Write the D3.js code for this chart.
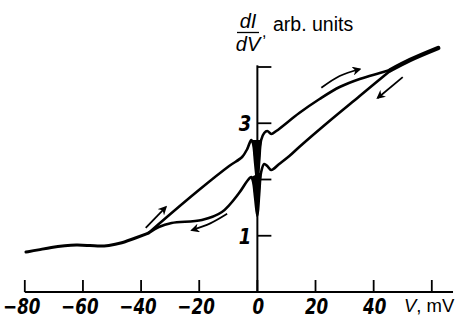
<!DOCTYPE html>
<html>
<head>
<meta charset="utf-8">
<script src="https://cdn.jsdelivr.net/npm/d3@7"></script>
<style>
  body { margin: 0; background: #fff; }
  svg { display: block; }
</style>
</head>
<body>
<div id="chart"></div>
<script>
// values: V in mV, dI/dV in arb. units
const tailV = [-79.6, -75.4, -70.9, -66.1, -62.3, -58.5, -55.0, -51.2, -46.7, -41.9, -37.4];
const tailG = [0.711, 0.747, 0.795, 0.825, 0.838, 0.83, 0.815, 0.822, 0.868, 0.96, 1.049];

// forward sweep (upper branch)
const fwdV = [-37.4, -33.9, -20.1, -9.7, -5.25, -3.5, -2.1, -1.45, -0.76, 0, 0.6, 1.3, 2.35, 3.4, 4.8, 6.5, 14.4, 21.4, 28.3, 35.2, 42.1, 45.6];
const fwdG = [1.049, 1.209, 1.813, 2.24, 2.40, 2.542, 2.702, 2.631, 2.293, 1.956, 2.311, 2.702, 2.827, 2.862, 2.809, 2.862, 3.182, 3.431, 3.644, 3.787, 3.893, 3.947];

// backward sweep (lower branch)
const bwdV = [45.6, 35.2, 24.8, 14.4, 11.0, 7.5, 4.8, 3.4, 2.35, 1.3, 0.6, 0, -0.76, -1.45, -2.1, -3.5, -6.3, -12.2, -19.1, -29.5, -33.9, -37.4];
const bwdG = [3.929, 3.484, 3.04, 2.578, 2.418, 2.276, 2.169, 2.24, 2.276, 2.133, 1.724, 1.351, 1.671, 1.956, 2.044, 1.973, 1.76, 1.422, 1.28, 1.227, 1.156, 1.049];

const headV = [45.6, 52.5, 62.2];
const headG = [3.94, 4.124, 4.338];

// sweep direction arrows [V, G] points, head at the last one
const arrows = [
  [[-38.4, 1.14], [-31.5, 1.51]],
  [[-10.4, 1.39], [-16.2, 1.22], [-22.5, 1.10]],
  [[22.0, 3.63], [28.3, 3.84], [35.2, 3.96]],
  [[50.0, 3.82], [41.4, 3.45]]
];

const xTicks = [-80, -60, -40, -20, 0, 20, 40, 60];
const xLabels = ["\u221280", "\u221260", "\u221240", "\u221220", "0", "20", "40", ""];
const yTicks = [1, 2, 3, 4];
const yLabels = ["1", "", "3", ""];

const width = 461, height = 325;

const svg = d3.select("#chart")
  .append("svg")
  .attr("width", width)
  .attr("height", height);

const x = d3.scaleLinear().domain([-80, 60]).range([24.8, 431.8]);
const y = d3.scaleLinear().domain([0, 4]).range([292, 67]);

// axes
svg.append("line")
  .attr("x1", x(-80)).attr("x2", x(67.3))
  .attr("y1", y(0)).attr("y2", y(0))
  .attr("stroke", "#000").attr("stroke-width", 2);

svg.append("line")
  .attr("x1", x(0)).attr("x2", x(0))
  .attr("y1", y(0)).attr("y2", y(4.03))
  .attr("stroke", "#000").attr("stroke-width", 2);

svg.selectAll(".xtick")
  .data(xTicks)
  .join("line")
  .attr("class", "xtick")
  .attr("x1", d => x(d)).attr("x2", d => x(d))
  .attr("y1", y(0)).attr("y2", y(0) - 12)
  .attr("stroke", "#000").attr("stroke-width", 1.8);

svg.selectAll(".xlab")
  .data(xTicks)
  .join("text")
  .attr("class", "xlab")
  .attr("transform", d => `translate(${x(d) + (d < 0 ? -3 : 1)},314) scale(0.88,1.12)`)
  .attr("text-anchor", "middle")
  .attr("font-family", "DejaVu Sans")
  .attr("font-style", "italic")
  .attr("font-weight", "bold")
  .attr("font-size", 19)
  .text((d, i) => xLabels[i]);

svg.selectAll(".ytick")
  .data(yTicks)
  .join("line")
  .attr("class", "ytick")
  .attr("x1", x(0)).attr("x2", x(0) + 14)
  .attr("y1", d => y(d)).attr("y2", d => y(d))
  .attr("stroke", "#000").attr("stroke-width", 1.8);

svg.selectAll(".ylab")
  .data(yTicks)
  .join("text")
  .attr("class", "ylab")
  .attr("transform", d => `translate(${x(0) - 6},${y(d) + 8}) scale(0.9,1.1)`)
  .attr("text-anchor", "end")
  .attr("font-family", "DejaVu Sans")
  .attr("font-style", "italic")
  .attr("font-weight", "bold")
  .attr("font-size", 20)
  .text((d, i) => yLabels[i]);

// axis titles
svg.append("text")
  .attr("x", 404).attr("y", 312)
  .attr("font-family", "Liberation Sans")
  .attr("font-size", 18.5)
  .html('<tspan font-style="italic">V</tspan>, mV');

svg.append("text")
  .attr("x", 248).attr("y", 28)
  .attr("text-anchor", "middle")
  .attr("font-family", "Liberation Sans")
  .attr("font-style", "italic")
  .attr("font-size", 20)
  .text("dI");
svg.append("line")
  .attr("x1", 237).attr("x2", 259)
  .attr("y1", 32.5).attr("y2", 32.5)
  .attr("stroke", "#000").attr("stroke-width", 1.3);
svg.append("text")
  .attr("x", 248).attr("y", 51)
  .attr("text-anchor", "middle")
  .attr("font-family", "Liberation Sans")
  .attr("font-style", "italic")
  .attr("font-size", 20)
  .text("dV");
svg.append("text")
  .attr("x", 262).attr("y", 37)
  .attr("font-family", "Liberation Sans")
  .attr("font-size", 16)
  .text(",");
svg.append("text")
  .attr("x", 273).attr("y", 31)
  .attr("font-family", "Liberation Sans")
  .attr("font-size", 19.5)
  .text("arb. units");

// curves
const line = d3.line()
  .x(d => x(d[0]))
  .y(d => y(d[1]))
  .curve(d3.curveCatmullRom.alpha(0.5));

const zip = (a, b) => a.map((v, i) => [v, b[i]]);

svg.append("path")
  .attr("d", line.curve(d3.curveBasis)(zip(tailV, tailG)))
  .attr("fill", "none").attr("stroke", "#000")
  .attr("stroke-width", 3).attr("stroke-linecap", "round");
line.curve(d3.curveCatmullRom.alpha(0.5));

// the sharp dip at zero bias is drawn as a solid wedge
const spike = d3.line().x(d => x(d[0])).y(d => y(d[1]));
svg.append("path")
  .attr("d", spike(zip(fwdV, fwdG).slice(6, 12)))
  .attr("fill", "#000").attr("stroke", "#000").attr("stroke-width", 1);
svg.append("path")
  .attr("d", spike(zip(bwdV, bwdG).slice(9, 15)))
  .attr("fill", "#000").attr("stroke", "#000").attr("stroke-width", 1);

svg.append("path")
  .attr("d", line(zip(fwdV, fwdG)))
  .attr("fill", "none").attr("stroke", "#000")
  .attr("stroke-width", 2.6).attr("stroke-linejoin", "round");

svg.append("path")
  .attr("d", line(zip(bwdV, bwdG)))
  .attr("fill", "none").attr("stroke", "#000")
  .attr("stroke-width", 2.6).attr("stroke-linejoin", "round");

svg.append("path")
  .attr("d", line(zip(headV, headG)))
  .attr("fill", "none").attr("stroke", "#000")
  .attr("stroke-width", 4.5).attr("stroke-linecap", "round");

// arrows
svg.append("defs").append("marker")
  .attr("id", "head")
  .attr("viewBox", "0 0 10 10")
  .attr("refX", 8).attr("refY", 5)
  .attr("markerWidth", 5).attr("markerHeight", 5)
  .attr("orient", "auto")
  .append("path")
  .attr("d", "M0,0L10,5L0,10L3,5Z")
  .attr("fill", "#000");

svg.selectAll(".arrow")
  .data(arrows)
  .join("path")
  .attr("class", "arrow")
  .attr("d", d => line(d))
  .attr("fill", "none").attr("stroke", "#000")
  .attr("stroke-width", 1.8)
  .attr("marker-end", "url(#head)");
</script>
</body>
</html>
